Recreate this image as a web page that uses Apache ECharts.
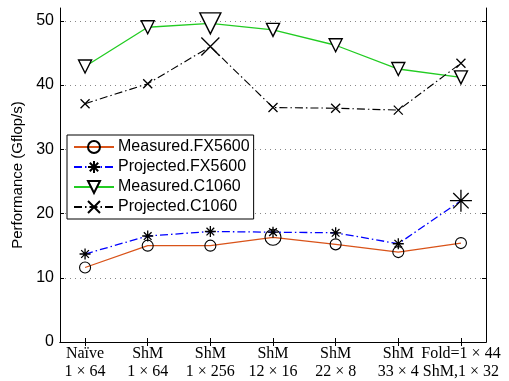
<!DOCTYPE html>
<html>
<head>
<meta charset="utf-8">
<script src="https://cdn.jsdelivr.net/npm/echarts@6/dist/echarts.min.js"></script>
<style>html,body{margin:0;padding:0;background:#fff;}#c{width:509px;height:381px;}</style>
</head>
<body>
<div id="c"></div>
<script>
const categories = ['Naïve\n1 × 64', 'ShM\n1 × 64', 'ShM\n1 × 256', 'ShM\n12 × 16', 'ShM\n22 × 8', 'ShM\n33 × 4', 'Fold=1 × 44\nShM,1 × 32'];
const measuredFX5600 = [11.6, 15.0, 15.0, 16.3, 15.2, 14.0, 15.4];
const projectedFX5600 = [13.7, 16.5, 17.2, 17.1, 17.0, 15.3, 22.0];
const measuredC1060 = [42.9, 49.0, 49.6, 48.6, 46.2, 42.5, 41.2];
const projectedC1060 = [37.1, 40.2, 46.0, 36.5, 36.4, 36.1, 43.4];
const yTicks = [0, 10, 20, 30, 40, 50];
const xTicks = [1, 2, 3, 4, 5, 6, 7];

const ASTERISK = 'path://M10,0L10,20M0,10L20,10M3,3L17,17M3,17L17,3';
const XMARK = 'path://M0,0L20,20M0,20L20,0';
const TRIDOWN = 'path://M0,0L20,0L10,17Z';
const CIRCLE = 'path://M20,10A10,10,0,1,1,0,10A10,10,0,1,1,20,10Z';

function pts(arr) { return arr.map((v, i) => [xTicks[i], v]); }
function sizer(arr, normal, big) {
  const mx = Math.max.apply(null, arr);
  return function (val) { return val[1] === mx ? big : normal; };
}

const chart = echarts.init(document.getElementById('c'), null, {renderer: 'canvas'});
const axisLine = {show: true, lineStyle: {color: '#000', width: 1}};
const option = {
  animation: false,
  backgroundColor: '#fff',
  grid: {left: 60, right: 23, top: 8, bottom: 38, containLabel: false},
  legend: {
    orient: 'vertical', left: 67, top: 135,
    backgroundColor: '#fff', borderColor: '#000', borderWidth: 1,
    padding: [4, 4, 4, 6], itemGap: 4, itemWidth: 40, itemHeight: 15,
    textStyle: {fontFamily: 'Liberation Sans', fontSize: 16, color: '#000', padding: [0, 0, 0, -1]},
    data: ['Measured.FX5600', 'Projected.FX5600', 'Measured.C1060', 'Projected.C1060']
  },
  xAxis: [{
    type: 'value', min: 0.6, max: 7.4, position: 'bottom',
    axisLine: axisLine,
    axisTick: {show: true, inside: true, length: 4, customValues: xTicks, lineStyle: {color: '#000'}},
    axisLabel: {customValues: xTicks, formatter: v => categories[Math.round(v) - 1], fontFamily: 'Liberation Serif', fontSize: 16, color: '#000', lineHeight: 18, margin: 3},
    splitLine: {show: false}
  }, {
    type: 'value', min: 0.6, max: 7.4, position: 'top',
    axisLine: axisLine,
    axisTick: {show: true, inside: true, length: 4, customValues: xTicks, lineStyle: {color: '#000'}},
    axisLabel: {show: false}, splitLine: {show: false}
  }],
  yAxis: [{
    type: 'value', min: 0, max: 52, position: 'left',
    name: 'Performance (Gflop/s)', nameLocation: 'middle', nameGap: 32,
    nameTextStyle: {fontFamily: 'Liberation Sans', fontSize: 15, color: '#000'},
    axisLine: axisLine,
    axisTick: {show: true, inside: true, length: 4, customValues: yTicks, lineStyle: {color: '#000'}},
    axisLabel: {customValues: yTicks, fontFamily: 'Liberation Sans', fontSize: 16, color: '#000', margin: 6},
    splitLine: {show: true, lineStyle: {color: '#888', type: [1, 4], width: 1}}
  }, {
    type: 'value', min: 0, max: 52, position: 'right',
    axisLine: axisLine,
    axisTick: {show: true, inside: true, length: 4, customValues: yTicks, lineStyle: {color: '#000'}},
    axisLabel: {show: false}, splitLine: {show: false}
  }],
  series: [
    {
      name: 'Measured.FX5600', type: 'line', data: pts(measuredFX5600),
      symbol: CIRCLE, symbolSize: sizer(measuredFX5600, 11, 16),
      lineStyle: {color: '#d95319', width: 1.3},
      itemStyle: {color: 'rgba(255,255,255,0)', borderColor: '#000', borderWidth: 1.1}, z: 3
    },
    {
      name: 'Projected.FX5600', type: 'line', data: pts(projectedFX5600),
      symbol: ASTERISK, symbolSize: sizer(projectedFX5600, 11, 22),
      lineStyle: {color: '#0000ff', width: 1.3, type: [8, 3, 1.5, 3]},
      itemStyle: {color: 'rgba(0,0,0,0)', borderColor: '#000', borderWidth: 1.3}, z: 4
    },
    {
      name: 'Measured.C1060', type: 'line', data: pts(measuredC1060),
      symbol: TRIDOWN, symbolSize: sizer(measuredC1060, 13, 21),
      lineStyle: {color: '#22cc22', width: 1.3},
      itemStyle: {color: '#fff', borderColor: '#000', borderWidth: 1.4}, z: 3
    },
    {
      name: 'Projected.C1060', type: 'line', data: pts(projectedC1060),
      symbol: XMARK, symbolSize: sizer(projectedC1060, 9, 18),
      lineStyle: {color: '#000', width: 1.1, type: [8, 3, 1.5, 3]},
      itemStyle: {color: 'rgba(0,0,0,0)', borderColor: '#000', borderWidth: 1.3}, z: 4
    }
  ]
};
chart.setOption(option);
</script>
</body>
</html>
